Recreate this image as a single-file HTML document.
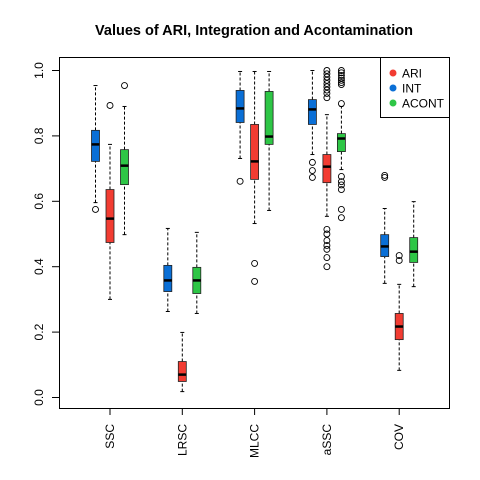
<!DOCTYPE html>
<html><head><meta charset="utf-8"><style>body{margin:0;background:#fff}svg{display:block}text{font-family:"Liberation Sans",sans-serif}</style></head>
<body>
<svg id="c" width="480" height="480"></svg>
<script>
const groups=["SSC","LRSC","MLCC","aSSC","COV"];
const seriesNames=["INT","ARI","ACONT"];
const seriesColors=["#0a6fd6","#f23c32","#2ec646"];
// [whiskerLow, q1, median, q3, whiskerHigh] per group
const intStats=[[.596,.722,.774,.817,.954],[.263,.324,.358,.404,.517],[.731,.841,.884,.939,.997],[.743,.835,.881,.911,1.0],[.349,.431,.462,.498,.578]];
const ariStats=[[.300,.474,.547,.636,.774],[.018,.049,.070,.110,.199],[.532,.667,.722,.835,.997],[.554,.657,.706,.743,.865],[.083,.177,.217,.257,.346]];
const acontStats=[[.498,.651,.709,.758,.890],[.257,.318,.358,.398,.505],[.572,.774,.798,.936,.997],[.697,.752,.792,.807,.89],[.339,.413,.446,.489,.599]];
const intOut=[[.575],[],[.661],[.719,.694,.673],[.679,.673]];
const ariOut=[[.893],[],[.410,.355],[1.0,.99,.98,.97,.96,.95,.94,.93,.917,.514,.50,.48,.465,.453,.428,.40],[.434,.419]];
const acontOut=[[.954],[],[],[1.0,.993,.985,.977,.97,.963,.957,.899,.676,.66,.65,.636,.575,.55],[]];
const yTicks=[0,0.2,0.4,0.6,0.8,1.0];
const yTickLabels=["0.0","0.2","0.4","0.6","0.8","1.0"];
const NS="http://www.w3.org/2000/svg",svg=document.getElementById('c');
const y=v=>397.5-v*327;
const x=(g,s)=>110+g*72.3+(s-1)*14.5;
function mk(t,a,p){const e=document.createElementNS(NS,t);for(const k in a)e.setAttribute(k,a[k]);(p||svg).appendChild(e);return e;}
let e;
e=mk('text',{x:254,y:35,'text-anchor':'middle','font-size':14.5,'font-weight':'bold'});e.textContent="Values of ARI, Integration and Acontamination";


e=mk('rect',{x:59.5,y:57.5,width:390,height:351,fill:'none',stroke:'#000'});


mk('line',{x1:59.5,x2:59.5,y1:y(0),y2:y(1),stroke:'#000'});
yTicks.forEach((t,i)=>{mk('line',{x1:52,x2:59.5,y1:y(t),y2:y(t),stroke:'#000'});
e=mk('text',{x:0,y:0,transform:`translate(43,${y(t)}) rotate(-90)`,'text-anchor':'middle','font-size':12});e.textContent=yTickLabels[i];

});
groups.forEach((g,i)=>{const cx=x(i,1);mk('line',{x1:cx,x2:cx,y1:408.5,y2:415,stroke:'#000'});
e=mk('text',{x:0,y:0,transform:`translate(${cx+4},424) rotate(-90)`,'text-anchor':'end','font-size':12});e.textContent=g;

});
const allStats=[intStats,ariStats,acontStats],allOut=[intOut,ariOut,acontOut];
allStats.forEach((st,s)=>st.forEach((d,g)=>{const cx=x(g,s),G=mk('g',{});


mk('line',{x1:cx,x2:cx,y1:y(d[0]),y2:y(d[1]),stroke:'#000','stroke-dasharray':'3,2'},G);
mk('line',{x1:cx,x2:cx,y1:y(d[3]),y2:y(d[4]),stroke:'#000','stroke-dasharray':'3,2'},G);
mk('line',{x1:cx-2,x2:cx+2,y1:y(d[0]),y2:y(d[0]),stroke:'#000'},G);
mk('line',{x1:cx-2,x2:cx+2,y1:y(d[4]),y2:y(d[4]),stroke:'#000'},G);
mk('rect',{x:cx-4,y:y(d[3]),width:8,height:y(d[1])-y(d[3]),fill:seriesColors[s],stroke:'#222','stroke-width':.8},G);
mk('line',{x1:cx-4,x2:cx+4,y1:y(d[2]),y2:y(d[2]),stroke:'#000','stroke-width':2.5},G);
allOut[s][g].forEach(v=>mk('circle',{cx:cx,cy:y(v),r:3,fill:'none',stroke:'#000','stroke-width':.9},G));}));
const L=mk('g',{});


mk('rect',{x:380.5,y:57.5,width:69,height:60,fill:'#fff',stroke:'#000'},L);
seriesNames.forEach((n,i)=>{const order=[1,0,2][i];const yy=73+order*15;
mk('circle',{cx:393,cy:yy,r:3.5,fill:seriesColors[i]},L);
e=mk('text',{x:402,y:yy+4.5,'font-size':12},L);e.textContent=n;

});
</script>
</body></html>
